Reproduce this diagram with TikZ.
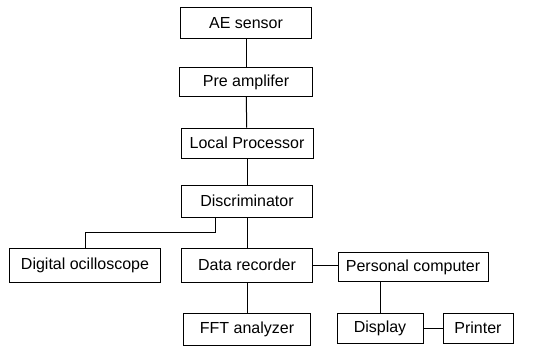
\documentclass[tikz,border=0pt]{standalone}
\usepackage{fontspec}
\setmainfont{Liberation Sans}
\usepackage{tikz}

\begin{document}
\begin{tikzpicture}[x=1pt,y=-1pt,line width=1pt,
	box/.style={draw,rectangle,inner sep=0pt,font=\fontsize{16}{18}\selectfont}]
		\useasboundingbox (0,0) rectangle (549,346);
		\node[box,minimum width=131,minimum height=31] (sensor) at (246,23) {AE sensor};
		\node[box,minimum width=133,minimum height=29] (preamp) at (246,82) {Pre amplifer};
		\node[box,minimum width=132,minimum height=30] (localproc) at (247,143) {Local Processor};
		\node[box,minimum width=131,minimum height=32] (discrim) at (247,201) {Discriminator};
		\node[box,minimum width=151,minimum height=34] (osc) at (85,265) {Digital ocilloscope};
		\node[box,minimum width=131,minimum height=34] (recorder) at (247,265) {Data recorder};
		\node[box,minimum width=150,minimum height=29] (pc) at (413,267) {Personal computer};
		\node[box,minimum width=127,minimum height=32] (fft) at (247,329) {FFT analyzer};
		\node[box,minimum width=86,minimum height=30] (display) at (380,328) {Display};
		\node[box,minimum width=70,minimum height=30] (printer) at (478,328) {Printer};
		\draw (sensor) -- (preamp);
		\draw (preamp) -- (localproc);
		\draw (localproc) -- (discrim);
		\draw (discrim) -- (recorder);
		\draw ([xshift=-32]discrim.south) -- ++(0,15) -| (osc.north);
		\draw (recorder) -- (recorder -| pc.west);
		\draw (recorder) -- (fft);
		\draw (display) -- (display |- pc.south);
		\draw (display) -- (printer);
		\end{tikzpicture}
\end{document}
